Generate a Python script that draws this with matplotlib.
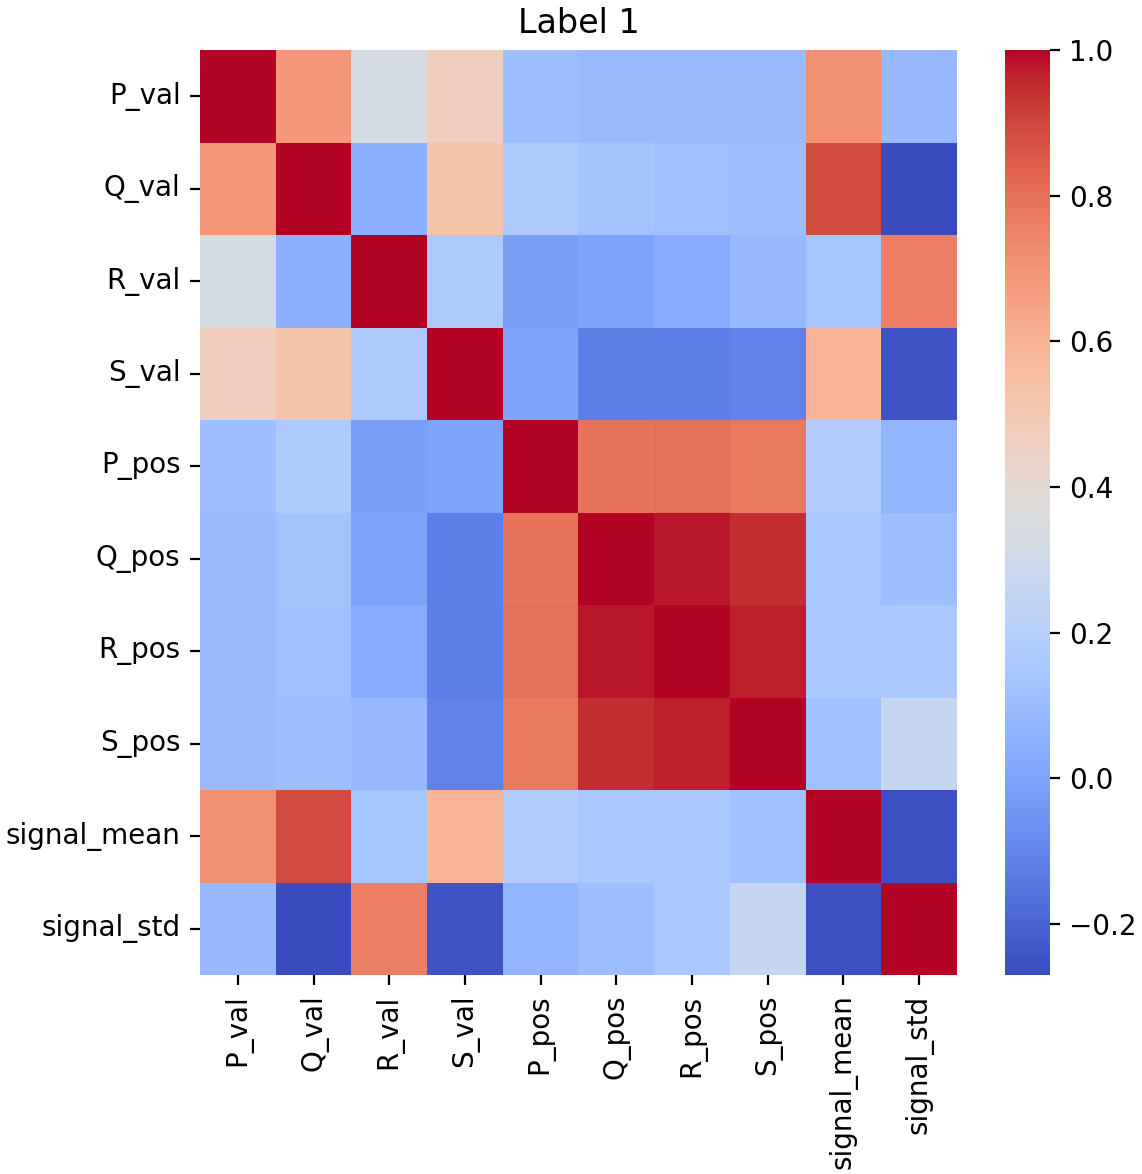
import numpy as np
import pandas as pd
import matplotlib
matplotlib.use("Agg")
import matplotlib.pyplot as plt
import seaborn as sns

# feature names (rows and columns)
features = ["P_val", "Q_val", "R_val", "S_val", "P_pos", "Q_pos", "R_pos", "S_pos",
            "signal_mean", "signal_std"]

# correlation values (upper triangle, row by row)
row_P_val = [1.00, 0.69, 0.33, 0.47, 0.11, 0.095, 0.095, 0.095, 0.71, 0.09]
row_Q_val = [0.045, 0.53, 0.17, 0.13, 0.12, 0.11, 0.89, -0.27]
row_R_val = [0.17, -0.02, 0.00, 0.03, 0.09, 0.14, 0.76]
row_S_val = [0.00, -0.12, -0.12, -0.11, 0.59, -0.25]
row_P_pos = [0.79, 0.80, 0.78, 0.18, 0.07]
row_Q_pos = [0.98, 0.95, 0.15, 0.11]
row_R_pos = [0.97, 0.15, 0.16]
row_S_pos = [0.12, 0.26]
row_signal_mean = [-0.26]

upper = [row_P_val[1:], row_Q_val, row_R_val, row_S_val, row_P_pos, row_Q_pos,
         row_R_pos, row_S_pos, row_signal_mean]

n = len(features)
corr = np.eye(n)
for i, vals in enumerate(upper):
    for k, v in enumerate(vals):
        j = i + 1 + k
        corr[i, j] = v
        corr[j, i] = v

df = pd.DataFrame(corr, index=features, columns=features)

fig = plt.figure(figsize=(5.71, 5.87), dpi=200)
ax = fig.add_axes([0.1751, 0.1695, 0.838 - 0.1751, 0.9574 - 0.1695])
cax = fig.add_axes([0.880, 0.1695, 0.0394, 0.9574 - 0.1695])

sns.heatmap(df, cmap="coolwarm", ax=ax, cbar_ax=cax)
ax.set_title("Label 1")

fig.savefig("out.png", dpi=200)
